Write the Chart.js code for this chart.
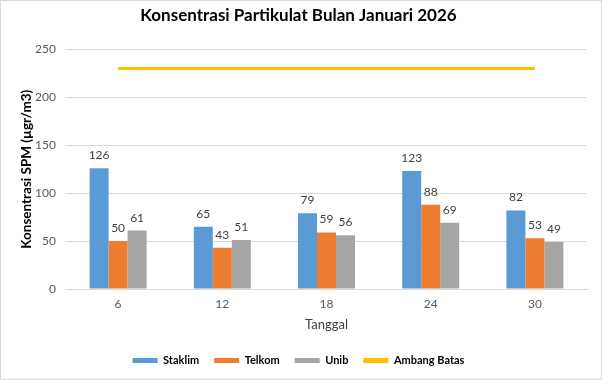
<!DOCTYPE html>
<html>
<head>
<meta charset="utf-8">
<script src="https://cdn.jsdelivr.net/npm/chart.js@4/dist/chart.umd.min.js"></script>
<style>
  html, body { margin: 0; padding: 0; background: #fff; }
  #wrap { width: 600px; height: 378px; border: 1px solid #d9d9d9; position: relative; }
</style>
</head>
<body>
<div id="wrap"><canvas id="c"></canvas></div>
<script>
const categories = ['6', '12', '18', '24', '30'];
const staklim = [126, 65, 79, 123, 82];
const telkom = [50, 43, 59, 88, 53];
const unib = [61, 51, 56, 69, 49];
const ambangBatas = [230, 230, 230, 230, 230];
const yTicks = [0, 50, 100, 150, 200, 250];

const FONT = 'Lato';

const valueLabels = {
  id: 'valueLabels',
  afterDatasetsDraw(chart) {
    const ctx = chart.ctx;
    ctx.save();
    ctx.font = '12px ' + FONT;
    ctx.fillStyle = '#404040';
    ctx.textAlign = 'center';
    ctx.textBaseline = 'alphabetic';
    chart.data.datasets.forEach((ds, i) => {
      if (ds.type === 'line') return;
      const meta = chart.getDatasetMeta(i);
      meta.data.forEach((el, j) => {
        ctx.fillText(String(ds.data[j]), el.x, el.y - 9);
      });
    });
    ctx.restore();
  }
};

new Chart(document.getElementById('c'), {
  type: 'bar',
  data: {
    labels: categories,
    datasets: [
      { label: 'Staklim', data: staklim, backgroundColor: '#5B9BD5' },
      { label: 'Telkom', data: telkom, backgroundColor: '#ED7D31' },
      { label: 'Unib', data: unib, backgroundColor: '#A5A5A5' },
      { label: 'Ambang Batas', data: ambangBatas, type: 'line', borderColor: '#FFC000', backgroundColor: '#FFC000', borderWidth: 3, pointRadius: 0, fill: false }
    ]
  },
  options: {
    responsive: true,
    maintainAspectRatio: false,
    animation: false,
    datasets: { bar: { categoryPercentage: 0.547, barPercentage: 1 } },
    layout: { padding: { left: 0, right: 5, top: 0, bottom: 3 } },
    plugins: {
      tooltip: { enabled: false },
      title: {
        display: true,
        text: 'Konsentrasi Partikulat Bulan Januari 2026',
        color: '#000',
        font: { family: FONT, size: 17, weight: 'bold' },
        padding: { top: 4, bottom: 24 }
      },
      legend: {
        position: 'bottom',
        labels: {
          boxWidth: 25,
          boxHeight: 5,
          padding: 15,
          color: '#000',
          font: { family: FONT, size: 11, weight: 'bold' },
          generateLabels(chart) {
            const items = Chart.defaults.plugins.legend.labels.generateLabels(chart);
            items.forEach(it => { it.lineWidth = 0; });
            return items;
          }
        }
      }
    },
    scales: {
      x: {
        grid: { display: false, drawTicks: false, tickLength: 0 },
        border: { display: true, color: '#d9d9d9' },
        ticks: { color: '#595959', font: { family: FONT, size: 12 }, padding: 8 },
        title: { display: true, text: 'Tanggal', color: '#404040', font: { family: FONT, size: 13 }, padding: { top: -2, bottom: 7 } }
      },
      y: {
        min: 0,
        max: 250,
        afterBuildTicks(scale) { scale.ticks = yTicks.map(v => ({ value: v })); },
        afterFit(scale) { scale.width = 65; },
        grid: { color: '#d9d9d9', drawTicks: false },
        border: { display: false },
        ticks: { color: '#595959', font: { family: FONT, size: 12 }, padding: 10 },
        title: { display: true, text: 'Konsentrasi SPM (µgr/m3)', color: '#000', font: { family: FONT, size: 13.5, weight: 'bold' }, padding: { top: 18, bottom: 0 } }
      },
      yRight: {
        position: 'right',
        display: true,
        min: 0,
        max: 250,
        afterFit(scale) { scale.width = 9; },
        grid: { display: false, drawTicks: false },
        border: { display: false },
        ticks: { display: false }
      }
    }
  },
  plugins: [valueLabels]
});
</script>
</body>
</html>
